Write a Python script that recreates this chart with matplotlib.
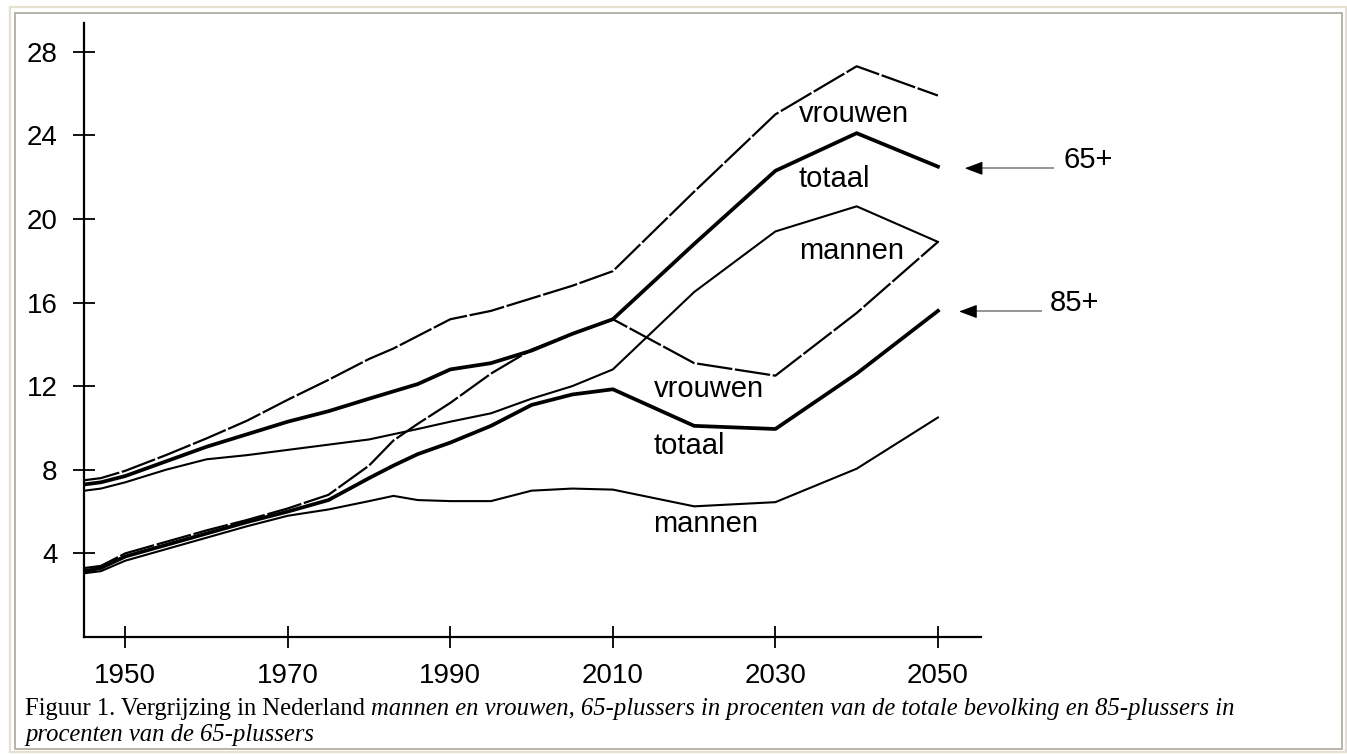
import numpy as np
import matplotlib
matplotlib.use('Agg')
import matplotlib.pyplot as plt
from matplotlib.patches import Rectangle

# Vergrijzing in Nederland
jaren = [1945, 1947, 1950, 1955, 1960, 1965, 1970, 1975, 1980, 1983,
         1986, 1990, 1995, 2000, 2005, 2010, 2020, 2030, 2040, 2050]

# 65-plussers in procenten van de totale bevolking
vrouwen_65 = [7.5, 7.6, 7.95, 8.7, 9.5, 10.35, 11.35, 12.3, 13.3, 13.8,
              14.4, 15.2, 15.6, 16.2, 16.8, 17.5, 21.3, 25.0, 27.3, 25.9]
totaal_65 = [7.3, 7.4, 7.7, 8.4, 9.1, 9.7, 10.3, 10.8, 11.4, 11.75,
             12.1, 12.8, 13.1, 13.7, 14.5, 15.2, 18.8, 22.3, 24.1, 22.5]
mannen_65 = [7.0, 7.1, 7.4, 8.0, 8.5, 8.7, 8.95, 9.2, 9.45, 9.7,
             9.95, 10.3, 10.7, 11.4, 12.0, 12.8, 16.5, 19.4, 20.6, 18.9]

# 85-plussers in procenten van de 65-plussers
vrouwen_85 = [3.3, 3.4, 4.0, 4.55, 5.1, 5.6, 6.15, 6.8, 8.2, 9.4,
              10.2, 11.2, 12.6, 13.75, 14.5, 15.2, 13.1, 12.5, 15.5, 18.9]
totaal_85 = [3.15, 3.3, 3.85, 4.4, 4.95, 5.5, 6.0, 6.55, 7.6, 8.2,
             8.75, 9.3, 10.1, 11.1, 11.6, 11.85, 10.1, 9.95, 12.6, 15.6]
mannen_85 = [3.05, 3.15, 3.65, 4.2, 4.75, 5.3, 5.8, 6.1, 6.5, 6.75,
             6.55, 6.5, 6.5, 7.0, 7.1, 7.05, 6.25, 6.45, 8.05, 10.5]

x_ticks = [1950, 1970, 1990, 2010, 2030, 2050]
y_ticks = [4, 8, 12, 16, 20, 24, 28]

W, H = 1347, 754
fig = plt.figure(figsize=(W / 100, H / 100), dpi=100)
ax = fig.add_axes([84 / W, (H - 637) / H, 897 / W, 614 / H])

sans = 'Liberation Sans'
serif = 'Liberation Serif'

# lijnen
ax.plot(jaren, vrouwen_65, color='black', lw=1.6, dashes=(16, 1.2))
ax.plot(jaren, totaal_65, color='black', lw=2.7)
ax.plot(jaren, mannen_65, color='black', lw=1.5)
ax.plot(jaren, vrouwen_85, color='black', lw=1.6, dashes=(16, 1.2))
ax.plot(jaren, totaal_85, color='black', lw=2.7)
ax.plot(jaren, mannen_85, color='black', lw=1.5)

# labels bij de lijnen
for txt, y in [('vrouwen', 24.65), ('totaal', 21.53), ('mannen', 18.1)]:
    ax.text(2032.9, y, txt, fontsize=21, family=sans, va='baseline', ha='left')
for txt, y in [('vrouwen', 11.47), ('totaal', 8.76), ('mannen', 5.01)]:
    ax.text(2015.0, y, txt, fontsize=21, family=sans, va='baseline', ha='left')

# pijlen 65+ en 85+
for naam, y_pijl, x_kop, x_staart, x_tekst in [('65+', 22.42, 2053.3, 2064.3, 2065.4),
                                               ('85+', 15.57, 2052.6, 2062.8, 2063.8)]:
    ax.plot([x_kop + 1.0, x_staart], [y_pijl, y_pijl], color='#8c8c8c', lw=1.3,
            clip_on=False, solid_capstyle='butt')
    ax.annotate('', xy=(x_kop, y_pijl), xytext=(x_kop + 1.7, y_pijl),
                arrowprops=dict(arrowstyle='-|>,head_length=0.8,head_width=0.3',
                                color='black', lw=0.8, shrinkA=0, shrinkB=0,
                                mutation_scale=14),
                annotation_clip=False)
    ax.text(x_tekst, y_pijl, naam, fontsize=21, family=sans, va='baseline',
            ha='left', clip_on=False)

# assen
ax.set_xlim(1944.92, 2055.3)
ax.set_ylim(0, 29.37)
for s in ['top', 'right']:
    ax.spines[s].set_visible(False)
for s in ['left', 'bottom']:
    ax.spines[s].set_linewidth(1.6)
ax.set_xticks(x_ticks)
ax.set_yticks(y_ticks)
ax.tick_params(axis='both', direction='inout', length=16, width=1.3,
               labelsize=20)
ax.tick_params(axis='y', pad=11)
ax.tick_params(axis='x', pad=10.5)
for lab in ax.get_xticklabels() + ax.get_yticklabels():
    lab.set_family(sans)

# onderschrift
t1 = fig.text(25 / W, 1 - 715 / H, 'Figuur 1. Vergrijzing in Nederland ',
              family=serif, fontsize=17.7, va='baseline', ha='left')
ax.annotate('mannen en vrouwen, 65-plussers in procenten van de totale bevolking '
            'en 85-plussers in',
            xy=(1, 0), xycoords=t1, va='bottom', ha='left',
            family=serif, style='italic', fontsize=17.7)
fig.text(25 / W, 1 - 741 / H, 'procenten van de 65-plussers',
         family=serif, style='italic', fontsize=17.7, va='baseline', ha='left')

# kader rond de figuur
fig.add_artist(Rectangle((10 / W, 2 / H), 1336 / W, 745 / H,
                         transform=fig.transFigure, fill=False,
                         ec='#e4e0cf', lw=1.6))
fig.add_artist(Rectangle((15 / W, 5 / H), 1327 / W, 736 / H,
                         transform=fig.transFigure, fill=False,
                         ec='#aaa79b', lw=1.2))

fig.savefig('out.png', dpi=100, facecolor='white')
